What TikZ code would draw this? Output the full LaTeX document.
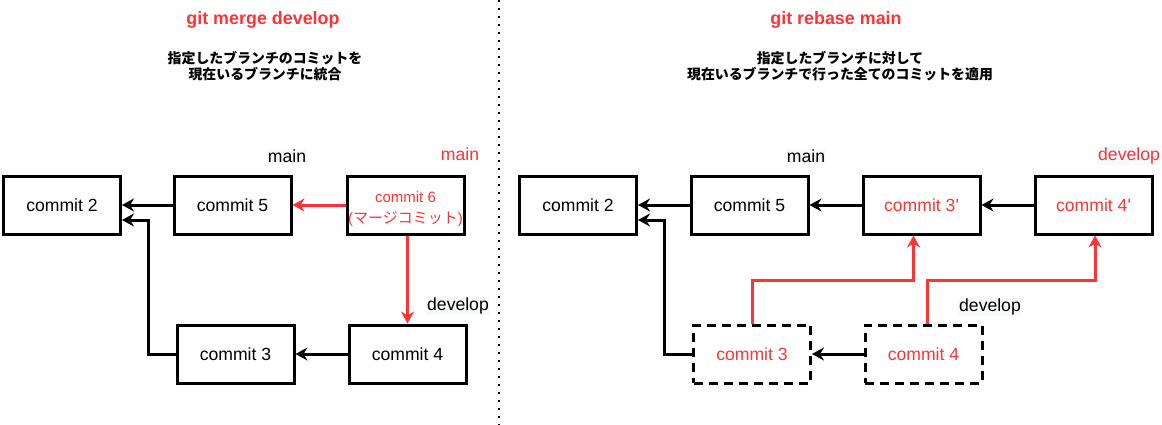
\documentclass[tikz,border=0pt]{standalone}
\usepackage{fontspec}
\setmainfont{Liberation Sans}
\newfontfamily\jp{Noto Sans CJK JP}
\usepackage{xcolor}
\usepackage{tikz}
\usetikzlibrary{positioning,arrows.meta,calc}
\definecolor{gitred}{HTML}{FF3333}
\definecolor{labelbg}{HTML}{F8F9FA}

\begin{document}
\begin{tikzpicture}[x=1pt, y=-1pt,
  blk/.style={draw, line width=3pt, minimum width=117pt, minimum height=58pt, inner sep=0pt, font=\fontsize{17.6}{21}\selectfont, align=center},
  ghost/.style={blk, dash pattern=on 9pt off 6pt, text=gitred},
  lbl/.style={fill=labelbg, inner sep=1pt, font=\fontsize{17.6}{21}\selectfont},
  ttl/.style={font=\fontsize{17.9}{21}\selectfont\bfseries, text=gitred},
  sub/.style={font=\jp\bfseries\fontsize{13.9}{16}\selectfont, align=center},
  link/.style={->, line width=3pt},
  >={Stealth[length=12pt, width=13pt, inset=4pt]}]
\useasboundingbox (0,0) rectangle (1162,425);
% titles
\node[ttl] (mtitle) at (263,20) {git merge develop};
\node[sub] (mdesc) at (265,66) {指定したブランチのコミットを\\現在いるブランチに統合};
\node[ttl] (rtitle) at (836,20) {git rebase main};
\node[sub] (rdesc) at (840,66) {指定したブランチに対して\\現在いるブランチで行った全てのコミットを適用};
\coordinate (divtop) at (499,0);
\coordinate (divbot) at (499,425);
\draw[line width=2pt, dash pattern=on 2pt off 6pt] (divtop) -- (divbot);
% merge
\node[blk] (m2) at (62,205) {commit 2};
\node[blk] (m5) at (232.5,205) {commit 5};
\node[blk] (m6) at (405.5,205) {};
\node[text=gitred, font=\fontsize{15}{21}\selectfont, align=center] (m6txt) at ([yshift=-4pt]m6.center) {commit 6\\({\jp マージコミット})};
\node[blk] (m3) at (235.5,354) {commit 3};
\node[blk] (m4) at (407.5,354) {commit 4};
\node[lbl] (mmain) at (287,156) {main};
\node[lbl, text=gitred] (mnew) at (460,154) {main};
\node[lbl] (mdev) at (458,306) {develop};
\draw[link] (m5.west) -- (m2.east);
\draw[link] (m3.west) -- ++(-27,0) |- ([yshift=-15pt]m2.east);
\draw[link, gitred] (m6.west) -- (m5.east);
\draw[link, gitred] (m6.south -| m4.north) -- (m4.north);
\draw[link] (m4.west) -- (m3.east);
% rebase
\node[blk] (r2) at (578,205) {commit 2};
\node[blk] (r5) at (749.5,205) {commit 5};
\node[blk, text=gitred] (r3n) at (921.5,205) {commit 3\textquotesingle};
\node[blk, text=gitred] (r4n) at (1093.5,205) {commit 4\textquotesingle};
\node[ghost] (r3) at (752,354) {commit 3};
\node[ghost] (r4) at (923.5,354) {commit 4};
\node[lbl] (rmain) at (806,156) {main};
\node[lbl, text=gitred] (rnew) at (1129,156) {develop};
\node[lbl] (rdev) at (990,307) {develop};
\foreach \a/\b in {r5/r2,r3n/r5,r4n/r3n,r4/r3} \draw[link] (\a.west) -- (\b.east);
\draw[link] (r3.west) -- ++(-28,0) |- ([yshift=-15pt]r2.east);
\draw[link, gitred] (r3.north) -- ++(0,-43) -| ([xshift=-8pt]r3n.south);
\draw[link, gitred] ([xshift=3.5pt]r4.north) -- ++(0,-43) -| ([xshift=1.5pt]r4n.south);
\end{tikzpicture}
\end{document}
